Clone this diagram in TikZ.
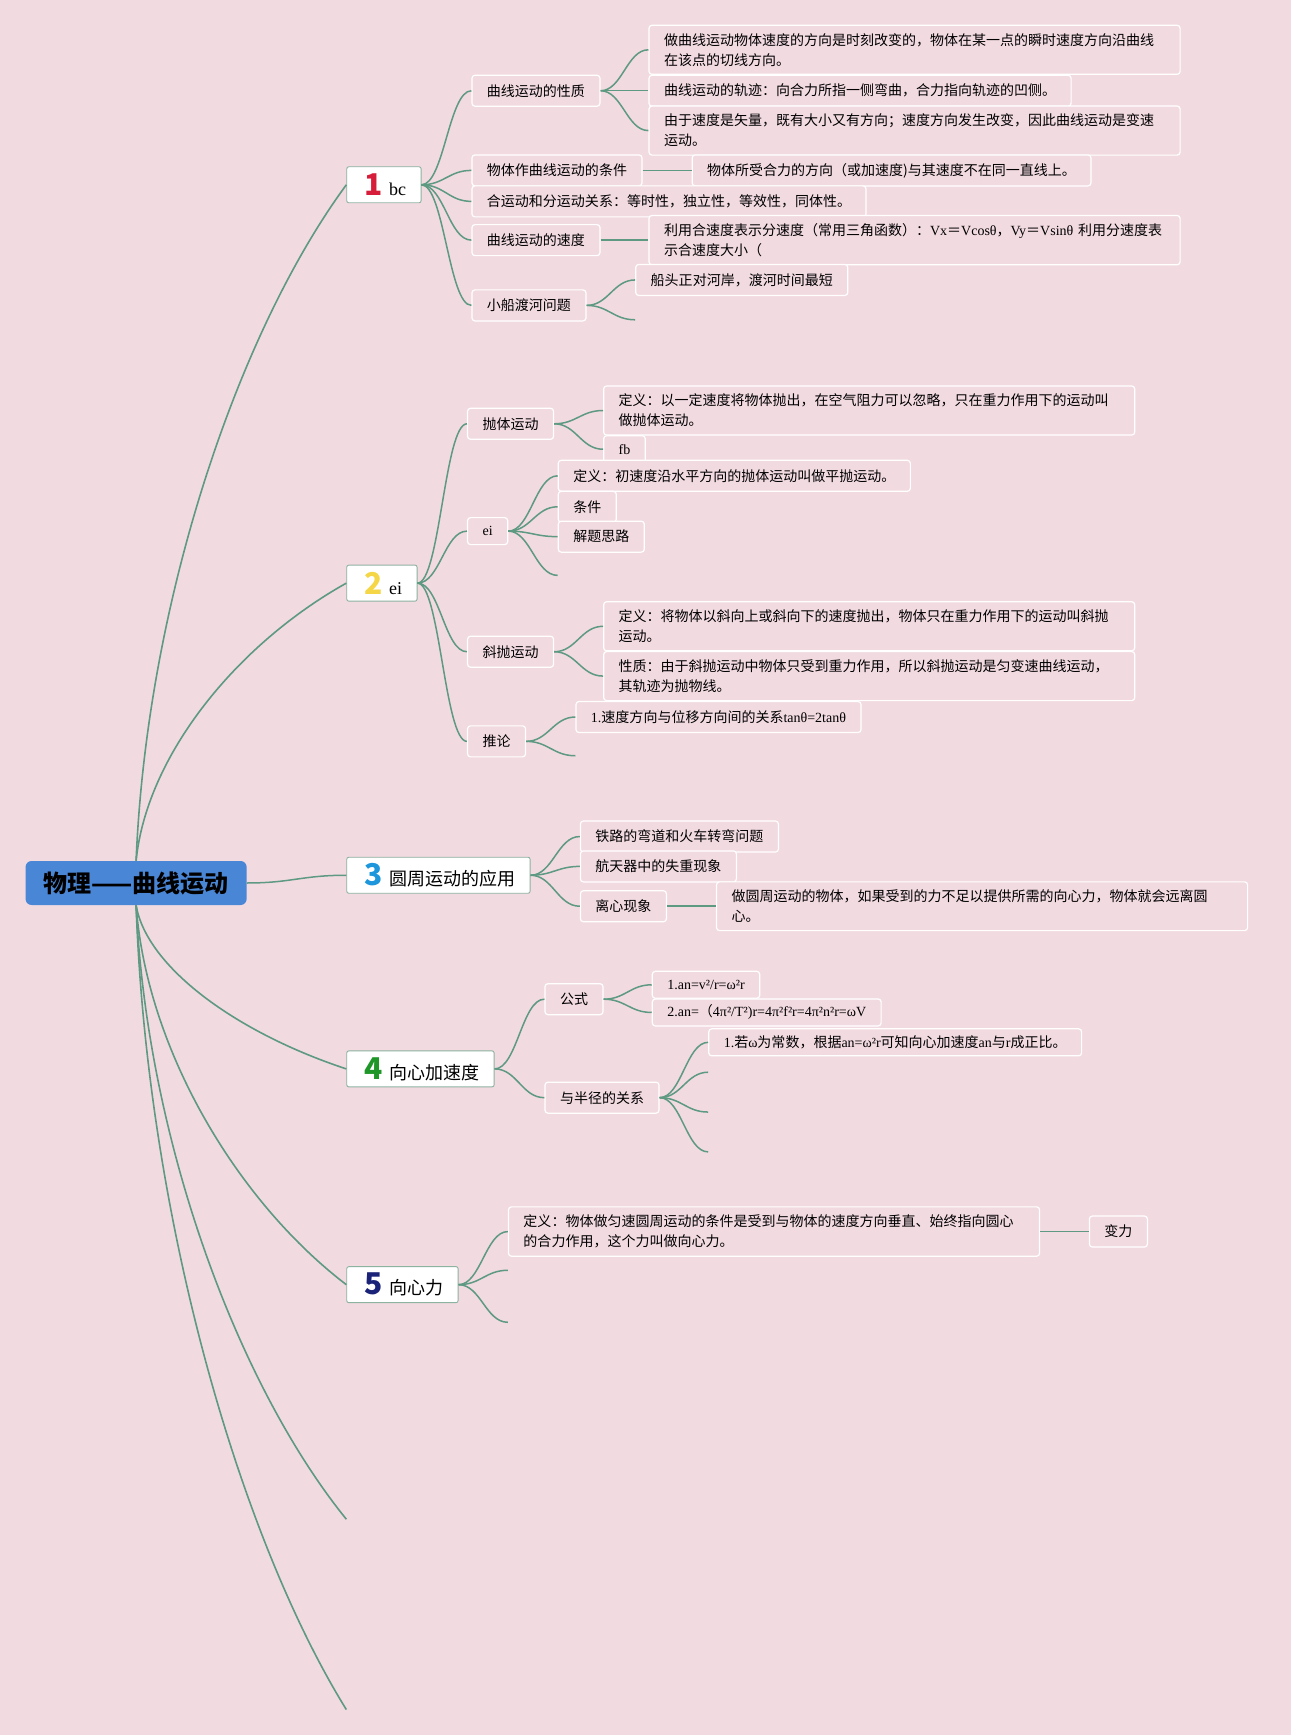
\documentclass[tikz,border=0pt]{standalone}
\usepackage{fontspec}
\setmainfont{Liberation Serif}
\newfontfamily\zh{Noto Sans CJK SC}
\usetikzlibrary{calc}
\definecolor{bg}{RGB}{242,218,225}
\definecolor{link}{RGB}{94,153,130}
\definecolor{topicline}{RGB}{140,178,160}
\definecolor{rootblue}{RGB}{74,134,214}
\definecolor{one}{RGB}{214,30,58}
\definecolor{two}{RGB}{245,214,70}
\definecolor{three}{RGB}{30,150,220}
\definecolor{four}{RGB}{30,150,40}
\definecolor{five}{RGB}{26,35,120}
\newcommand\lat[1]{{\rmfamily #1}}
\newcommand\tnum[2]{\hspace{3pt}{\color{#1}\zh\bfseries\fontsize{30}{30}\selectfont #2}\hspace{6pt}}
\tikzstyle{root}=[fill=rootblue,rounded corners=6pt,minimum width=221pt,minimum height=44pt,font=\zh\bfseries\fontsize{24}{24}\selectfont]
\tikzstyle{topic}=[draw=topicline,fill=white,line width=0.9pt,rounded corners=2pt,inner xsep=15pt,inner ysep=1pt,minimum height=36pt,anchor=west,font=\zh\fontsize{18}{20}\selectfont]
\tikzstyle{leaf}=[draw=white,fill=bg,line width=1.2pt,rounded corners=3pt,inner xsep=15pt,inner ysep=5pt,minimum height=31pt,anchor=west,font=\zh\fontsize{14}{20}\selectfont]
\tikzstyle{para}=[leaf,text width=501pt,align=left,inner ysep=8pt]
\tikzstyle{small}=[leaf,minimum height=27pt]
\tikzstyle{fork}=[draw=link,line width=1.5pt,to path={let \p1=(\tikztostart), \p2=(\tikztotarget) in .. controls ({\x1+0.45*(\x2-\x1)},\y1) and ({\x1+0.55*(\x2-\x1)},\y2) .. (\tikztotarget)}]
\tikzstyle{trunk}=[draw=link,line width=1.6pt,to path={let \p1=(\tikztostart), \p2=(\tikztotarget) in .. controls ({\x1+0.05*(\x2-\x1)},{\y1+0.38*(\y2-\y1)}) and ({\x1+0.48*(\x2-\x1)},{\y1+0.78*(\y2-\y1)}) .. (\tikztotarget)}]
\begin{document}
\begin{tikzpicture}[x=1.1063pt,y=-1.1063pt]
\fill[bg] (0,0) rectangle (1167,1568);
% main topics
\node[root] (R) at (123,798) {物理——曲线运动};
\node[topic] (T1) at (313,167) {\tnum{one}{1}\lat{bc}};
\node[topic] (T2) at (313,527) {\tnum{two}{2}\lat{ei}};
\node[topic] (T3) at (313,791) {\tnum{three}{3}圆周运动的应用};
\node[topic] (T4) at (313,966) {\tnum{four}{4}向心加速度};
\node[topic] (T5) at (313,1161) {\tnum{five}{5}向心力};
\coordinate (T6) at (313,1373);
\coordinate (T7) at (313,1545);
\path (R.north) edge[trunk] (T1.west) edge[trunk] (T2.west)
      (R.east) edge[fork] (T3.west)
      (R.south) edge[trunk] (T4.west) edge[trunk] (T5.west) edge[trunk] (T6) edge[trunk] (T7);
% 1
\node[leaf] (A) at (426,82) {曲线运动的性质};
\node[para] (A1) at (586,45) {做曲线运动物体速度的方向是时刻改变的，物体在某一点的瞬时速度方向沿曲线\\在该点的切线方向。};
\node[leaf] (A2) at (586,82) {曲线运动的轨迹：向合力所指一侧弯曲，合力指向轨迹的凹侧。};
\node[para] (A3) at (586,118) {由于速度是矢量，既有大小又有方向；速度方向发生改变，因此曲线运动是变速\\运动。};
\node[leaf] (B) at (426,154) {物体作曲线运动的条件};
\node[leaf] (B1) at (625,154) {物体所受合力的方向（或加速度)与其速度不在同一直线上。};
\node[leaf] (C) at (426,182) {合运动和分运动关系：等时性，独立性，等效性，同体性。};
\node[leaf] (D) at (426,217) {曲线运动的速度};
\node[para] (D1) at (586,217) {利用合速度表示分速度（常用三角函数）：\lat{Vx}＝\lat{Vcosθ}，\lat{Vy}＝\lat{Vsinθ} 利用分速度表\\示合速度大小（};
\node[leaf] (E) at (426,276) {小船渡河问题};
\node[leaf] (E1) at (574,253) {船头正对河岸，渡河时间最短};
\coordinate (E2) at (574,289);
\path (T1.east) edge[fork] (A.west) edge[fork] (B.west) edge[fork] (C.west) edge[fork] (D.west) edge[fork] (E.west)
      (A.east) edge[fork] (A1.west) edge[fork] (A2.west) edge[fork] (A3.west)
      (B.east) edge[fork] (B1.west)
      (D.east) edge[fork] (D1.west)
      (E.east) edge[fork] (E1.west) edge[fork] (E2);
% 2
\node[leaf] (F) at (422,383) {抛体运动};
\node[para] (F1) at (545,371) {定义：以一定速度将物体抛出，在空气阻力可以忽略，只在重力作用下的运动叫\\做抛体运动。};
\node[small] (F2) at (545,406) {\lat{fb}};
\node[small] (G) at (422,480) {\lat{ei}};
\node[leaf] (G1) at (504,430) {定义：初速度沿水平方向的抛体运动叫做平抛运动。};
\node[leaf] (G2) at (504,458) {条件};
\node[leaf] (G3) at (504,485) {解题思路};
\coordinate (G4) at (504,520);
\node[leaf] (H) at (422,589) {斜抛运动};
\node[para] (H1) at (545,566) {定义：将物体以斜向上或斜向下的速度抛出，物体只在重力作用下的运动叫斜抛\\运动。};
\node[para] (H2) at (545,611) {性质：由于斜抛运动中物体只受到重力作用，所以斜抛运动是匀变速曲线运动，\\其轨迹为抛物线。};
\node[leaf] (I) at (422,670) {推论};
\node[leaf] (I1) at (520,648) {\lat{1.}速度方向与位移方向间的关系\lat{tanθ=2tanθ}};
\coordinate (I2) at (520,683);
\path (T2.east) edge[fork] (F.west) edge[fork] (G.west) edge[fork] (H.west) edge[fork] (I.west)
      (F.east) edge[fork] (F1.west) edge[fork] (F2.west)
      (G.east) edge[fork] (G1.west) edge[fork] (G2.west) edge[fork] (G3.west) edge[fork] (G4)
      (H.east) edge[fork] (H1.west) edge[fork] (H2.west)
      (I.east) edge[fork] (I1.west) edge[fork] (I2);
% 3
\node[leaf] (J1) at (524,756) {铁路的弯道和火车转弯问题};
\node[leaf] (J2) at (524,783) {航天器中的失重现象};
\node[leaf] (J3) at (524,819) {离心现象};
\node[para] (J4) at (647,819) {做圆周运动的物体，如果受到的力不足以提供所需的向心力，物体就会远离圆\\心。};
\path (T3.east) edge[fork] (J1.west) edge[fork] (J2.west) edge[fork] (J3.west)
      (J3.east) edge[fork] (J4.west);
% 4
\node[leaf] (K) at (492,903) {公式};
\node[small] (K1) at (589,890) {\lat{1.an=v²/r=ω²r}};
\node[small] (K2) at (589,915) {\lat{2.an=}（\lat{4π²/T²)r=4π²f²r=4π²n²r=ωV}};
\node[leaf] (L) at (492,992) {与半径的关系};
\node[small] (L1) at (640,942) {\lat{1.}若\lat{ω}为常数，根据\lat{an=ω²r}可知向心加速度\lat{an}与\lat{r}成正比。};
\coordinate (L2) at (640,969);
\coordinate (L3) at (640,1005);
\coordinate (L4) at (640,1041);
\path (T4.east) edge[fork] (K.west) edge[fork] (L.west)
      (K.east) edge[fork] (K1.west) edge[fork] (K2.west)
      (L.east) edge[fork] (L1.west) edge[fork] (L2) edge[fork] (L3) edge[fork] (L4);
% 5
\node[para] (M) at (459,1113) {定义：物体做匀速圆周运动的条件是受到与物体的速度方向垂直、始终指向圆心\\的合力作用，这个力叫做向心力。};
\node[leaf] (M1) at (984,1113) {变力};
\coordinate (M2) at (459,1148);
\coordinate (M3) at (459,1195);
\path (T5.east) edge[fork] (M.west) edge[fork] (M2) edge[fork] (M3)
      (M.east) edge[fork] (M1.west);
\end{tikzpicture}
\end{document}
